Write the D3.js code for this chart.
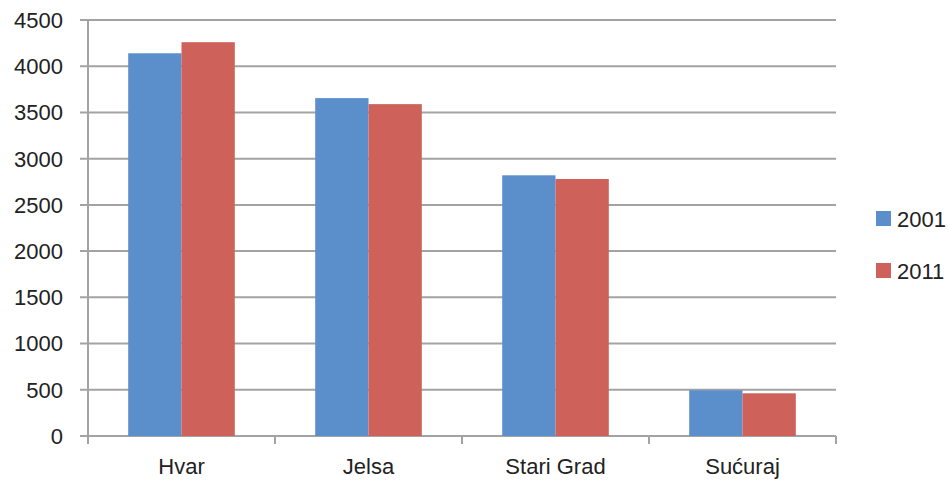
<!DOCTYPE html>
<html>
<head>
<meta charset="utf-8">
<script src="https://cdn.jsdelivr.net/npm/d3@7"></script>
<style>
  body { margin: 0; background: #fff; }
  text { font-family: "Liberation Sans", "DejaVu Sans", sans-serif; fill: #222; }
</style>
</head>
<body>
<div id="chart"></div>
<script>
const categories = ["Hvar", "Jelsa", "Stari Grad", "Sućuraj"];
const years = ["2001", "2011"];
const values2001 = [4140, 3655, 2820, 495];
const values2011 = [4260, 3590, 2780, 462];
const yTicks = [0, 500, 1000, 1500, 2000, 2500, 3000, 3500, 4000, 4500];

const colors = ["#5b8fcb", "#cf615b"];
const gridColor = "#a3a3a3";

const width = 948, height = 480;
const margin = { top: 20, left: 88, right: 112, bottom: 44 };
const plotRight = width - margin.right;
const plotBottom = height - margin.bottom;

const svg = d3.select("#chart").append("svg")
    .attr("width", width)
    .attr("height", height);

const y = d3.scaleLinear()
    .domain([0, 4500])
    .range([plotBottom, margin.top]);

const x0 = d3.scaleBand()
    .domain(categories)
    .range([margin.left, plotRight])
    .paddingInner(0.43)
    .paddingOuter(0.215);

const x1 = d3.scaleBand()
    .domain(years)
    .range([0, x0.bandwidth()]);

// gridlines (with small ticks to the left of the axis)
svg.append("g").selectAll("line")
    .data(yTicks)
    .join("line")
    .attr("x1", margin.left - 8)
    .attr("x2", plotRight)
    .attr("y1", d => y(d))
    .attr("y2", d => y(d))
    .attr("stroke", gridColor)
    .attr("stroke-width", 2);

// y labels
svg.append("g").selectAll("text")
    .data(yTicks)
    .join("text")
    .attr("x", margin.left - 25)
    .attr("y", d => y(d))
    .attr("dy", "0.36em")
    .attr("text-anchor", "end")
    .style("font-size", "22px")
    .text(d => d);

// bars
const series = [values2001, values2011];
categories.forEach((c, i) => {
    years.forEach((yr, j) => {
        svg.append("rect")
            .attr("x", x0(c) + x1(yr))
            .attr("y", y(series[j][i]))
            .attr("width", x1.bandwidth())
            .attr("height", y(0) - y(series[j][i]))
            .attr("fill", colors[j]);
    });
});

// axes lines
svg.append("line")
    .attr("x1", margin.left).attr("x2", margin.left)
    .attr("y1", margin.top).attr("y2", plotBottom + 8)
    .attr("stroke", gridColor).attr("stroke-width", 2);

const step = x0.step();
const bounds = d3.range(categories.length + 1).map(i => margin.left + i * step);
svg.append("g").selectAll("line")
    .data(bounds)
    .join("line")
    .attr("x1", d => d).attr("x2", d => d)
    .attr("y1", plotBottom).attr("y2", plotBottom + 8)
    .attr("stroke", gridColor).attr("stroke-width", 2);

// category labels
svg.append("g").selectAll("text")
    .data(categories)
    .join("text")
    .attr("x", d => x0(d) + x0.bandwidth() / 2)
    .attr("y", 474)
    .attr("text-anchor", "middle")
    .style("font-size", "22px")
    .text(d => d);

// legend
const legend = svg.append("g").attr("transform", "translate(876, 211)");
years.forEach((yr, j) => {
    const g = legend.append("g").attr("transform", `translate(0, ${j * 52})`);
    g.append("rect")
        .attr("width", 15).attr("height", 15)
        .attr("fill", colors[j]);
    g.append("text")
        .attr("x", 21).attr("y", 16)
        .style("font-size", "22px")
        .text(yr);
});
</script>
</body>
</html>
